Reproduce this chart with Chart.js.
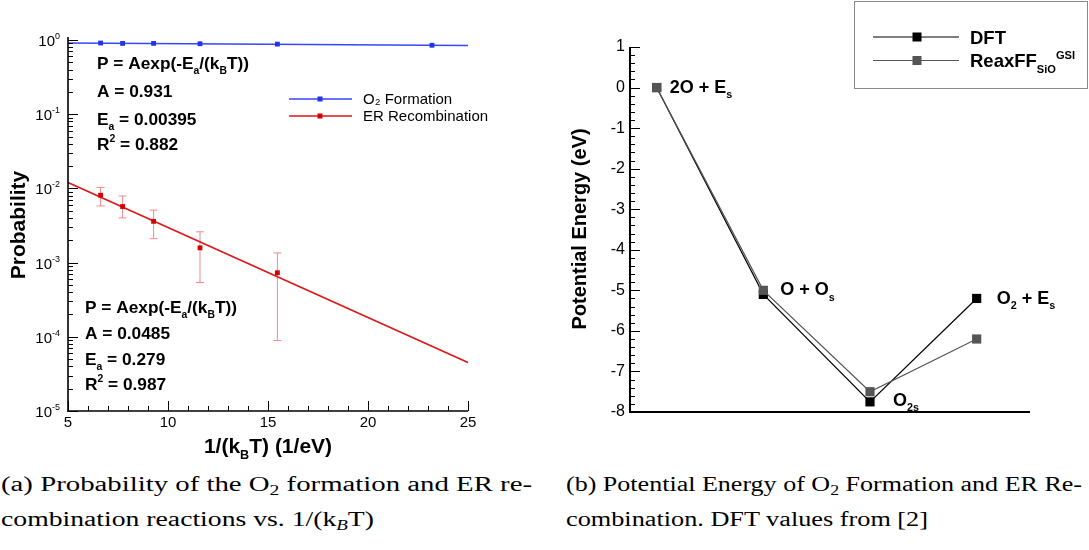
<!DOCTYPE html>
<html><head><meta charset="utf-8">
<script src="https://cdn.jsdelivr.net/npm/chart.js@4.4.1/dist/chart.umd.min.js"></script>
<style>
html,body{margin:0;padding:0;background:#fff}
body{width:1089px;height:550px;position:relative;overflow:hidden}
canvas{position:absolute;top:0}
#c1{left:0}
#c2{left:540px}
.cap{position:absolute;font-family:"Liberation Serif","Times New Roman",serif;font-size:20.5px;line-height:20px;white-space:nowrap;transform-origin:0 0;color:#000}
.cap sub{font-size:14px;vertical-align:-4px;line-height:0}
</style></head><body>
<canvas id="c1" width="540" height="465"></canvas>
<canvas id="c2" width="549" height="465"></canvas>
<div class="cap" data-w="531" style="left:1px;top:474px">(a) Probability of the O<sub>2</sub> formation and ER re-</div>
<div class="cap" data-w="373" style="left:1px;top:509px">combination reactions vs. 1/(k<sub><i>B</i></sub>T)</div>
<div class="cap" data-w="516" style="left:566px;top:474px">(b) Potential Energy of O<sub>2</sub> Formation and ER Re-</div>
<div class="cap" data-w="362" style="left:566px;top:509px">combination. DFT values from [2]</div>
<script>
// ---------- data: panel (a) ----------
const invKT = [6.63, 7.73, 9.28, 11.6, 15.47, 23.2];
const o2Prob = [0.91, 0.90, 0.90, 0.89, 0.88, 0.85];
const erInvKT = [6.63, 7.73, 9.28, 11.6, 15.47];
const erProb = [8.1e-3, 5.7e-3, 3.6e-3, 1.58e-3, 7.3e-4];
const erLow = [5.8e-3, 4.0e-3, 2.1e-3, 5.4e-4, 8.9e-5];
const erHigh = [1.03e-2, 7.9e-3, 5.1e-3, 2.6e-3, 1.35e-3];
const fitX = [5, 25];
const o2Fit = [0.913, 0.845];
const erFit = [0.0120, 4.5e-5];
const xTicks = [5, 10, 15, 20, 25];
const yTicks = [1, 1e-1, 1e-2, 1e-3, 1e-4, 1e-5];
const yTickExp = ['0', '-1', '-2', '-3', '-4', '-5'];
const seriesA = ['O\u2082 Formation', 'ER Recombination'];
// ---------- data: panel (b) ----------
const stageX = [1, 2, 3, 4];
const dftE = [0, -5.1, -7.75, -5.2];
const reaxE = [0, -5.0, -7.5, -6.2];
const eTicks = [1, 0, -1, -2, -3, -4, -5, -6, -7, -8];
const stageLabels = [
  [['2O + E'], ['s', 1]],
  [['O + O'], ['s', 1]],
  [['O'], ['2s', 1]],
  [['O'], ['2', 1], [' + E'], ['s', 1]]
];

const FAM = '"Liberation Sans", Arial, Helvetica, sans-serif';
Chart.defaults.font.family = FAM;
Chart.defaults.color = '#000';

// rich text: parts [text, mode] mode 0 normal, 1 sub, 2 sup
function rich(ctx, x, y, parts, size, weight, align) {
  ctx.save();
  ctx.textBaseline = 'alphabetic';
  ctx.textAlign = 'left';
  const segs = parts.map(p => {
    const mode = p[1] || 0;
    const fs = mode ? size * 0.6 : size;
    const font = `${weight} ${fs}px ${FAM}`;
    ctx.font = font;
    return {t: p[0], mode, font, w: ctx.measureText(p[0]).width};
  });
  const total = segs.reduce((a, s) => a + s.w, 0);
  let cx = align === 'center' ? x - total / 2 : align === 'right' ? x - total : x;
  for (const s of segs) {
    ctx.font = s.font;
    const dy = s.mode === 1 ? size * 0.3 : s.mode === 2 ? -size * 0.45 : 0;
    ctx.fillText(s.t, cx, y + dy);
    cx += s.w;
  }
  ctx.restore();
  return total;
}
function line(ctx, x1, y1, x2, y2) { ctx.beginPath(); ctx.moveTo(x1, y1); ctx.lineTo(x2, y2); ctx.stroke(); }
function square(ctx, x, y, s, col) { ctx.fillStyle = col; ctx.fillRect(x - s / 2, y - s / 2, s, s); }

const BLUE = '#3446ff', BLUE_M = '#2233ee', RED = '#e01515', RED_M = '#d40000', RED_E = '#f08a8a';

// ---------- panel (a) ----------
const plugA = {
  id: 'plugA',
  beforeDatasetsDraw(chart) {
    const ctx = chart.ctx, xs = chart.scales.x, ys = chart.scales.y;
    ctx.save();
    ctx.strokeStyle = RED_E; ctx.lineWidth = 1;
    erInvKT.forEach((v, i) => {
      const px = xs.getPixelForValue(v);
      const y1 = ys.getPixelForValue(erLow[i]), y2 = ys.getPixelForValue(erHigh[i]);
      line(ctx, px, y1, px, y2);
      line(ctx, px - 4, y1, px + 4, y1);
      line(ctx, px - 4, y2, px + 4, y2);
    });
    ctx.restore();
  },
  afterDraw(chart) {
    const ctx = chart.ctx, xs = chart.scales.x, ys = chart.scales.y, a = chart.chartArea;
    ctx.save();
    ctx.strokeStyle = '#000'; ctx.lineWidth = 1.6;
    line(ctx, a.left, a.top - 3, a.left, a.bottom + 0.8);
    line(ctx, a.left - 0.8, a.bottom, a.right, a.bottom);
    ctx.lineWidth = 1;
    for (let v = xTicks[0]; v <= xTicks[xTicks.length - 1]; v++) {
      const px = Math.round(xs.getPixelForValue(v)) + 0.5;
      const len = xTicks.includes(v) ? 10 : 5;
      line(ctx, px, a.bottom, px, a.bottom - len);
    }
    ctx.fillStyle = '#000';
    yTicks.forEach((v, i) => {
      const py = Math.round(ys.getPixelForValue(v)) + 0.5;
      line(ctx, a.left, py, a.left + 10, py);
      // tick label 10^n
      rich(ctx, a.left - 8, py + 5.5, [['10'], [yTickExp[i], 2]], 15, 'normal', 'right');
    });
    for (let e = -5; e < 0; e++) for (let k = 2; k <= 9; k++) {
      const py = Math.round(ys.getPixelForValue(k * Math.pow(10, e))) + 0.5;
      line(ctx, a.left, py, a.left + 5, py);
    }
    // legend
    const leg = [[BLUE, BLUE_M, 99], [RED, RED_M, 116]];
    leg.forEach((l, i) => {
      ctx.strokeStyle = l[0]; ctx.lineWidth = 1.6;
      line(ctx, 289, l[2], 352, l[2]);
      square(ctx, 320, l[2], 5, l[1]);
      ctx.fillStyle = '#000';
      ctx.font = `15px ${FAM}`;
      ctx.textBaseline = 'alphabetic';
      ctx.fillText(seriesA[i], 363, l[2] + 5);
    });
    ctx.fillStyle = '#000';
    const b1 = [
      [['P = Aexp(-E'], ['a', 1], ['/(k'], ['B', 1], ['T))']],
      [['A = 0.931']],
      [['E'], ['a', 1], [' = 0.00395']],
      [['R'], ['2', 2], [' = 0.882']]
    ];
    [69, 97, 125, 150].forEach((y, i) => rich(ctx, 97, y, b1[i], 17.3, 'bold'));
    const b2 = [
      [['P = Aexp(-E'], ['a', 1], ['/(k'], ['B', 1], ['T))']],
      [['A = 0.0485']],
      [['E'], ['a', 1], [' = 0.279']],
      [['R'], ['2', 2], [' = 0.987']]
    ];
    [313, 339, 365, 390].forEach((y, i) => rich(ctx, 85, y, b2[i], 17.3, 'bold'));
    rich(ctx, 268, 453, [['1/(k'], ['B', 1], ['T) (1/eV)']], 21, 'bold', 'center');
    ctx.save();
    ctx.translate(25, 225); ctx.rotate(-Math.PI / 2);
    ctx.font = `bold 21px ${FAM}`; ctx.textAlign = 'center'; ctx.textBaseline = 'alphabetic';
    ctx.fillText('Probability', 0, 0);
    ctx.restore();
    ctx.restore();
  }
};

new Chart(document.getElementById('c1'), {
  type: 'scatter',
  data: {
    datasets: [
      {label: seriesA[0], data: invKT.map((x, i) => ({x, y: o2Prob[i]})), showLine: false,
       pointStyle: 'rect', pointRadius: 3.4, backgroundColor: BLUE_M, borderWidth: 0, clip: false},
      {label: seriesA[1], data: erInvKT.map((x, i) => ({x, y: erProb[i]})), showLine: false,
       pointStyle: 'rect', pointRadius: 3.4, backgroundColor: RED_M, borderWidth: 0, clip: false},
      {label: 'O2 fit', data: fitX.map((x, i) => ({x, y: o2Fit[i]})), showLine: true,
       pointRadius: 0, borderColor: BLUE, borderWidth: 1.6, clip: false},
      {label: 'ER fit', data: fitX.map((x, i) => ({x, y: erFit[i]})), showLine: true,
       pointRadius: 0, borderColor: RED, borderWidth: 1.6, clip: false}
    ]
  },
  options: {
    responsive: false, animation: false, devicePixelRatio: 1,
    layout: {padding: {left: 0, right: 72, top: 40, bottom: 0}},
    plugins: {legend: {display: false}, tooltip: {enabled: false}},
    scales: {
      x: {type: 'linear', min: 5, max: 25, grid: {display: false, drawTicks: false}, border: {display: false},
          afterBuildTicks: s => { s.ticks = xTicks.map(v => ({value: v})); },
          ticks: {font: {size: 15}, padding: 3, maxRotation: 0, callback: v => String(v)},
          afterFit: s => { s.height = 54; }},
      y: {type: 'logarithmic', min: 1e-5, max: 1, grid: {display: false, drawTicks: false}, border: {display: false},
          afterBuildTicks: s => { s.ticks = yTicks.map(v => ({value: v})); },
          ticks: {display: false},
          afterFit: s => { s.width = 68; }}
    }
  },
  plugins: [plugA]
});

// ---------- panel (b) ----------
const GRAY = '#555555';
const plugB = {
  id: 'plugB',
  afterDraw(chart) {
    const ctx = chart.ctx, ys = chart.scales.y, xs = chart.scales.x, a = chart.chartArea;
    ctx.save();
    ctx.strokeStyle = '#000'; ctx.lineWidth = 2;
    line(ctx, a.left, a.top, a.left, a.bottom + 1);
    line(ctx, a.left - 1, a.bottom, a.right, a.bottom);
    ctx.lineWidth = 1;
    for (let k = 0; k <= 45; k++) {
      const v = 1 - k * 0.2;
      const py = Math.round(ys.getPixelForValue(v)) + 0.5;
      line(ctx, a.left, py, a.left + (k % 5 === 0 ? 10 : 5), py);
    }
    ctx.fillStyle = '#000';
    const off = [[13, 5.5], [17, 5], [23, 4], [20, 5.5]];
    stageX.forEach((x, i) => {
      const px = xs.getPixelForValue(x) + off[i][0];
      const e = i >= 2 ? dftE[i] : Math.max(dftE[i], reaxE[i]);
      const py = ys.getPixelForValue(e) + off[i][1];
      rich(ctx, px, py, stageLabels[i], 18, 'bold');
    });
    ctx.save();
    ctx.translate(46, 229); ctx.rotate(-Math.PI / 2);
    ctx.font = `bold 20px ${FAM}`; ctx.textAlign = 'center'; ctx.textBaseline = 'alphabetic';
    ctx.fillText('Potential Energy (eV)', 0, 0);
    ctx.restore();
    ctx.strokeStyle = '#8a8a8a'; ctx.lineWidth = 1;
    ctx.strokeRect(314.5, 1.5, 233, 87);
    const leg = [['#000', '#000', 37, [['DFT']]], [GRAY, GRAY, 60.5, [['ReaxFF'], ['SiO', 1], ['GSI', 2]]]];
    leg.forEach(l => {
      ctx.strokeStyle = l[0]; ctx.lineWidth = 1.2;
      line(ctx, 333, l[2], 419, l[2]);
      square(ctx, 377, l[2], 9, l[1]);
      ctx.fillStyle = '#000';
      rich(ctx, 430, l[2] + 6.5, l[3], 18.5, 'bold');
    });
    ctx.restore();
  }
};

new Chart(document.getElementById('c2'), {
  type: 'scatter',
  data: {
    datasets: [
      {label: 'ReaxFF SiO GSI', data: stageX.map((x, i) => ({x, y: reaxE[i]})), showLine: true,
       borderColor: GRAY, borderWidth: 1.2, pointStyle: 'rect', pointRadius: 6.5, backgroundColor: GRAY,
       pointBorderWidth: 0, clip: false},
      {label: 'DFT', data: stageX.map((x, i) => ({x, y: dftE[i]})), showLine: true,
       borderColor: '#000', borderWidth: 1.2, pointStyle: 'rect', pointRadius: 6.5, backgroundColor: '#000',
       pointBorderWidth: 0, clip: false}
    ]
  },
  options: {
    responsive: false, animation: false, devicePixelRatio: 1,
    layout: {padding: {left: 0, right: 59, top: 47, bottom: 0}},
    plugins: {legend: {display: false}, tooltip: {enabled: false}},
    scales: {
      x: {type: 'linear', min: 0.75, max: 4.5, grid: {display: false, drawTicks: false}, border: {display: false},
          ticks: {display: false}, afterFit: s => { s.height = 53; }},
      y: {type: 'linear', min: -8, max: 1, grid: {display: false, drawTicks: false}, border: {display: false},
          afterBuildTicks: s => { s.ticks = eTicks.map(v => ({value: v})); },
          ticks: {font: {size: 16}, padding: 5, callback: v => String(v)},
          afterFit: s => { s.width = 90; }}
    }
  },
  plugins: [plugB]
});

document.querySelectorAll('.cap').forEach(d => {
  const w = d.getBoundingClientRect().width;
  const t = +d.dataset.w;
  d.style.transform = `scaleX(${t / w})`;
});
</script>
</body></html>
